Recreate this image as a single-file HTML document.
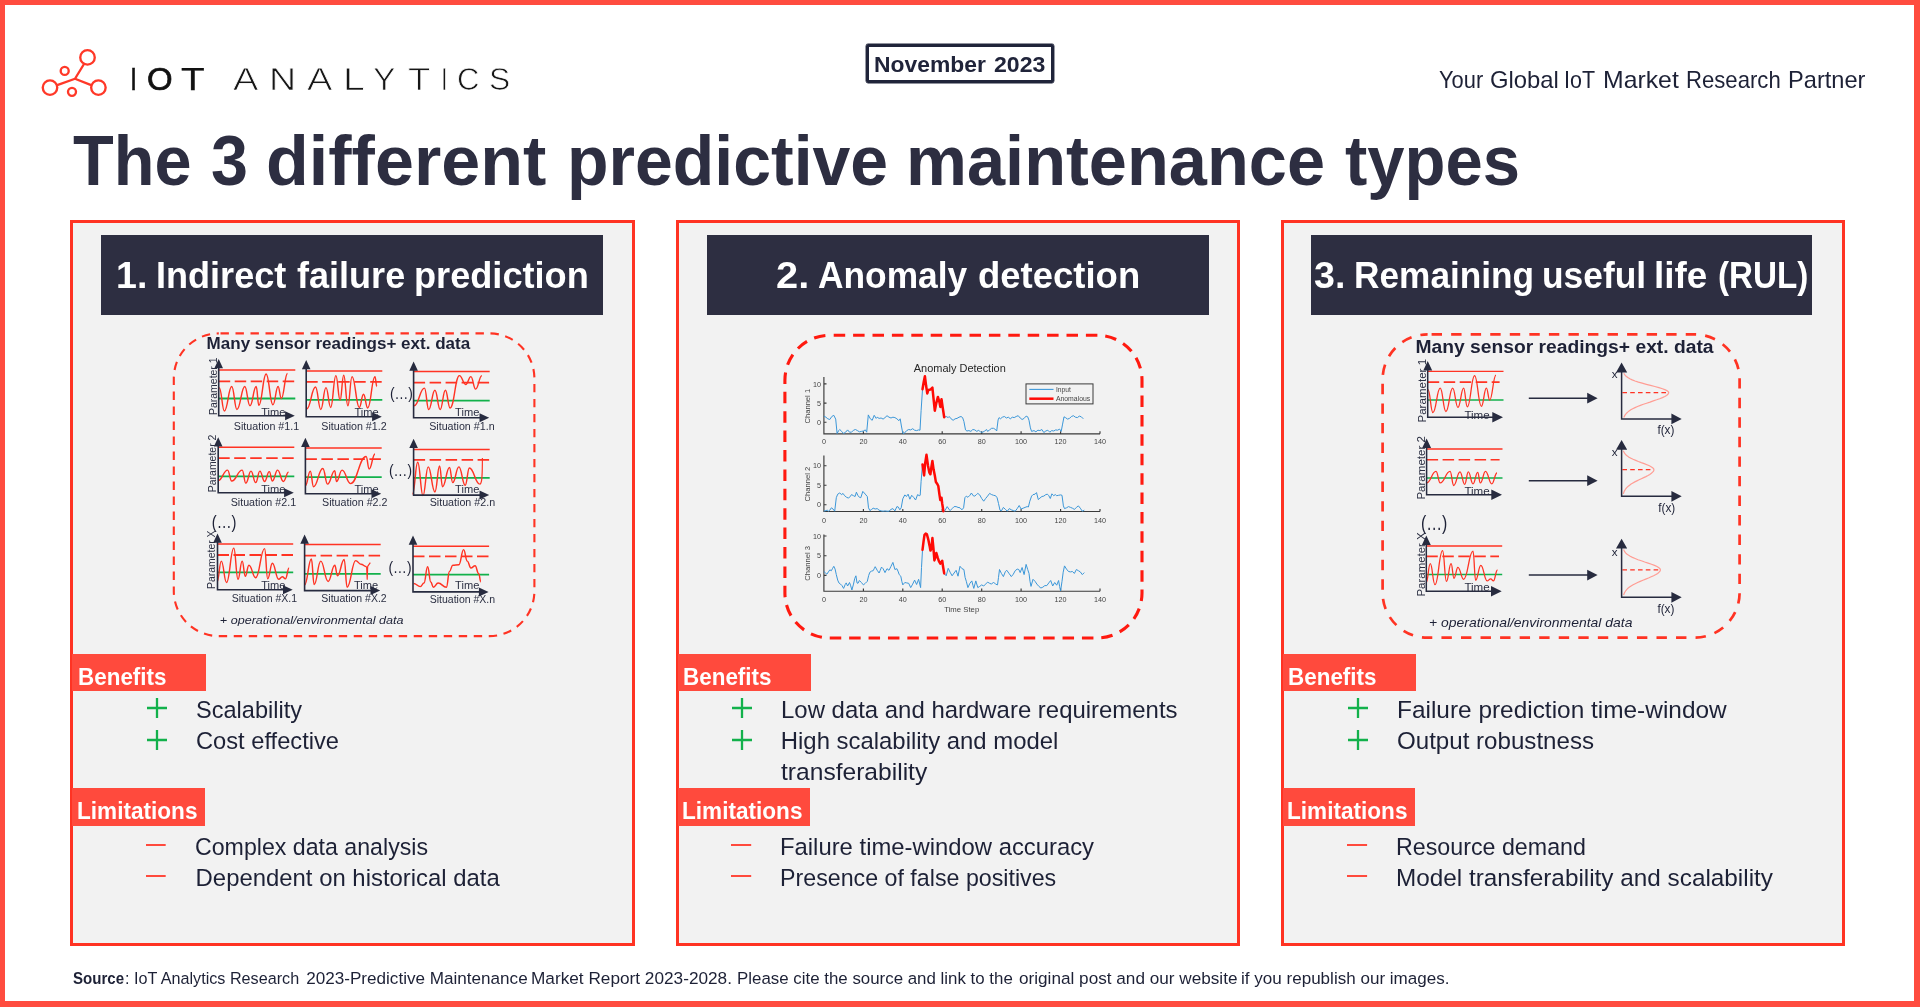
<!DOCTYPE html>
<html lang="en"><head><meta charset="utf-8"><title>The 3 different predictive maintenance types</title>
<style>
html,body{margin:0;padding:0}
body{width:1920px;height:1007px;position:relative;overflow:hidden;background:#fff;font-family:"Liberation Sans",sans-serif;color:#1d2136}
.stage{position:absolute;left:0;top:0;width:1920px;height:1007px;will-change:transform}
.frame{position:absolute;left:0;top:0;width:1920px;height:1007px;box-sizing:border-box;border-style:solid;border-color:#ff4c3f;border-width:5px 6px 6px 5px;pointer-events:none}
.t{position:absolute;white-space:nowrap;line-height:1;transform-origin:0 0;margin:0;padding:0;display:block}
h1,h2,h3,p,ul,li,figure{margin:0;padding:0;font-weight:normal;list-style:none}
.panel{position:absolute;top:220px;width:564px;height:726px;box-sizing:border-box;border:3px solid #ff3323;background:#f2f2f2}
.hd{position:absolute;top:235px;height:80px;background:#2d2e41}
.lab{position:absolute;height:37.5px;background:#ff4a3d}
.fig{position:absolute;overflow:visible}
.ico{position:absolute;overflow:visible}
.badge{position:absolute;left:866px;top:44px;width:188px;height:39px;box-sizing:border-box;border:3px solid #20243a;border-radius:2px;box-shadow:0 0 0 .45px #20243a}
.thin{-webkit-text-stroke:.75px #fff;color:#161616}
.iot{-webkit-text-stroke:.5px #111;color:#111}
</style></head><body><div class="stage">
<header>
<svg class="ico" style="left:38px;top:45px" width="74" height="58" viewBox="38 45 74 58" aria-hidden="true">
<g fill="none" stroke="#ff3828" stroke-width="2.35" stroke-linecap="round">
<circle cx="87.5" cy="57.4" r="7.25"/><circle cx="50" cy="87.6" r="7.25"/><circle cx="98.4" cy="87.6" r="7.25"/>
<circle cx="64.7" cy="70.9" r="4.0"/><circle cx="72" cy="91.8" r="4.0"/>
<path d="M75 78.75L84 64M75 78.75L57.2 85.2M75 78.75L91.2 85.2"/></g></svg>
<div class="logo"><span class="wr"><span class="t" style="left:129.60px;top:64.00px;font-size:31.8px;color:#111;transform:scaleX(0.8000);-webkit-text-stroke:0.45px #111;">I</span><span class="t" style="left:147.27px;top:64.00px;font-size:31.8px;color:#111;transform:scaleX(1.0348);-webkit-text-stroke:0.7px #111;">O</span><span class="t" style="left:181.40px;top:64.00px;font-size:31.8px;color:#111;transform:scaleX(1.2211);-webkit-text-stroke:0.25px #111;">T</span></span> <span class="wr"><span class="t thin" style="left:232.65px;top:64.00px;font-size:31.3px;transform:scaleX(1.2143);">A</span><span class="t thin" style="left:268.55px;top:64.00px;font-size:31.3px;transform:scaleX(1.2000);">N</span><span class="t thin" style="left:306.85px;top:64.00px;font-size:31.3px;transform:scaleX(1.2143);">A</span><span class="t thin" style="left:343.14px;top:64.00px;font-size:31.3px;transform:scaleX(1.2533);">L</span><span class="t thin" style="left:373.25px;top:64.00px;font-size:31.3px;transform:scaleX(1.0810);">Y</span><span class="t thin" style="left:408.15px;top:64.00px;font-size:31.3px;transform:scaleX(1.1684);">T</span><span class="t thin" style="left:441.45px;top:64.00px;font-size:31.3px;transform:scaleX(0.7500);">I</span><span class="t thin" style="left:456.66px;top:64.00px;font-size:31.3px;transform:scaleX(0.9905);">C</span><span class="t thin" style="left:489.43px;top:64.00px;font-size:31.3px;transform:scaleX(1.0158);">S</span></span></div>
<div class="badge"></div>
<time class="wr"><span class="t" style="left:874.39px;top:54.00px;font-size:22.6px;font-weight:bold;color:#20243a;transform:scaleX(1.0118);">November</span> <span class="t" style="left:993.80px;top:54.00px;font-size:22.6px;font-weight:bold;color:#20243a;transform:scaleX(1.0202);">2023</span></time>
<p class="wr"><span class="t" style="left:1439.20px;top:69.00px;font-size:23.6px;transform:scaleX(0.9265);">Your</span> <span class="t" style="left:1490.19px;top:69.00px;font-size:23.6px;transform:scaleX(1.0097);">Global</span> <span class="t" style="left:1564.28px;top:69.00px;font-size:23.6px;transform:scaleX(0.9092);">IoT</span> <span class="t" style="left:1602.95px;top:69.00px;font-size:23.6px;transform:scaleX(1.0510);">Market</span> <span class="t" style="left:1685.76px;top:69.00px;font-size:23.6px;transform:scaleX(0.9377);">Research</span> <span class="t" style="left:1788.00px;top:69.00px;font-size:23.6px;transform:scaleX(1.0011);">Partner</span></p>
</header>
<h1 class="wr"><span class="t" style="left:72.50px;top:126.00px;font-size:70.6px;font-weight:bold;color:#2d2e41;transform:scaleX(0.9445);">The</span> <span class="t" style="left:211.36px;top:126.00px;font-size:70.6px;font-weight:bold;color:#2d2e41;transform:scaleX(0.9417);">3</span> <span class="t" style="left:266.31px;top:126.00px;font-size:70.6px;font-weight:bold;color:#2d2e41;transform:scaleX(0.9926);">different</span> <span class="t" style="left:566.85px;top:126.00px;font-size:70.6px;font-weight:bold;color:#2d2e41;transform:scaleX(0.9629);">predictive</span> <span class="t" style="left:906.42px;top:126.00px;font-size:70.6px;font-weight:bold;color:#2d2e41;transform:scaleX(0.9711);">maintenance</span> <span class="t" style="left:1345.20px;top:126.00px;font-size:70.6px;font-weight:bold;color:#2d2e41;transform:scaleX(0.9492);">types</span></h1>
<main>
<section><div class="panel" style="left:70px;width:565px"></div>
<div class="hd" style="left:101px;width:502px"></div>
<h2 class="wr"><span class="t" style="left:115.93px;top:258.00px;font-size:36.3px;font-weight:bold;color:#fff;transform:scaleX(1.0349);">1.</span> <span class="t" style="left:155.81px;top:258.00px;font-size:36.3px;font-weight:bold;color:#fff;transform:scaleX(0.9937);">Indirect</span> <span class="t" style="left:296.80px;top:258.00px;font-size:36.3px;font-weight:bold;color:#fff;transform:scaleX(0.9931);">failure</span> <span class="t" style="left:414.01px;top:258.00px;font-size:36.3px;font-weight:bold;color:#fff;transform:scaleX(0.9961);">prediction</span></h2>
<svg class="fig" style="left:160px;top:325px" width="395" height="320" viewBox="160 325 395 320" role="img" aria-label="Many sensor readings and external data for several parameters and situations">
<rect x="173.8" y="333.4" width="360.6" height="302.7" rx="45" ry="45" fill="none" stroke="#ff3323" stroke-width="2.1" stroke-dasharray="8.4 6.6" stroke-dashoffset="-1.7"/>
<path d="M218.7 398.5H295.3" stroke="#12b14b" stroke-width="1.8"/>
<path d="M218.7 370.0H295.3" stroke="#ff3323" stroke-width="1.5"/>
<path d="M218.7 381.3H295.3" stroke="#ff3323" stroke-width="1.8" stroke-dasharray="11.5 4.5"/>
<path d="M219.2 387.6C221.6 387.6 222.1 411.0 224.4 411.0C227.7 411.0 228.5 386.5 231.7 386.5C234.1 386.5 234.6 409.5 236.9 409.5C240.5 409.5 241.3 386.5 244.8 386.5C247.1 386.5 247.6 405.8 250.0 405.8C252.8 405.8 253.4 386.5 256.2 386.5C257.4 386.5 257.7 405.3 258.8 405.3C262.1 405.3 262.9 374.0 266.1 374.0C269.2 374.0 269.9 404.8 272.9 404.8C275.3 404.8 275.8 386.5 278.1 386.5C279.5 386.5 279.9 398.5 281.3 398.5C284.1 398.5 284.7 373.5 287.5 373.5" stroke="#ff3323" stroke-width="1.45" fill="none" stroke-linejoin="round"/>
<path d="M218.7 367.2V415.7H286.1" stroke="#272b3f" stroke-width="1.6" fill="none"/>
<path d="M218.7 358.9l4.3 9.3h-8.6zM294.8 415.7l-9.7 -4.5v9.0z" fill="#272b3f"/>
<path d="M306.2 399.9H382.3" stroke="#12b14b" stroke-width="1.8"/>
<path d="M306.2 370.9H382.3" stroke="#ff3323" stroke-width="1.5"/>
<path d="M306.2 381.8H382.3" stroke="#ff3323" stroke-width="1.8" stroke-dasharray="11.5 4.5"/>
<path d="M306.7 408.9C310.7 408.9 311.6 387.0 315.5 387.0C317.9 387.0 318.4 409.5 320.8 409.5C323.1 409.5 323.6 387.6 326.0 387.6C328.1 387.6 328.6 407.4 330.7 407.4C333.0 407.4 333.5 375.6 335.9 375.6C337.8 375.6 338.2 400.1 340.1 400.1C341.7 400.1 342.1 375.1 343.7 375.1C345.6 375.1 346.0 405.8 347.9 405.8C349.7 405.8 350.2 376.6 352.0 376.6C355.3 376.6 356.1 407.4 359.3 407.4C361.2 407.4 361.6 394.3 363.5 394.3C365.4 394.3 365.8 407.9 367.7 407.9C371.0 407.9 371.7 376.6 375.0 376.6C375.8 376.6 376.0 386.5 376.8 386.5" stroke="#ff3323" stroke-width="1.45" fill="none" stroke-linejoin="round"/>
<path d="M306.2 368.2V416.8H373.1" stroke="#272b3f" stroke-width="1.6" fill="none"/>
<path d="M306.2 359.9l4.3 9.3h-8.6zM381.8 416.8l-9.7 -4.5v9.0z" fill="#272b3f"/>
<path d="M413.6 400.6H489.7" stroke="#12b14b" stroke-width="1.8"/>
<path d="M413.6 371.6H489.7" stroke="#ff3323" stroke-width="1.5"/>
<path d="M413.6 382.6H489.7" stroke="#ff3323" stroke-width="1.8" stroke-dasharray="11.5 4.5"/>
<path d="M414.1 405.8C418.8 405.8 419.8 388.1 424.5 388.1C426.4 388.1 426.8 409.5 428.7 409.5C431.5 409.5 432.1 390.2 434.9 390.2C437.3 390.2 437.8 409.5 440.2 409.5C442.5 409.5 443.0 390.2 445.4 390.2C447.5 390.2 448.0 407.9 450.1 407.9C454.3 407.9 455.2 375.6 459.4 375.6C462.3 375.6 462.9 384.4 465.7 384.4C468.1 384.4 468.6 376.6 470.9 376.6C473.0 376.6 473.5 389.1 475.6 389.1C478.4 389.1 479.1 375.6 481.9 375.6" stroke="#ff3323" stroke-width="1.45" fill="none" stroke-linejoin="round"/>
<path d="M413.6 369.8V417.8H480.5" stroke="#272b3f" stroke-width="1.6" fill="none"/>
<path d="M413.6 361.5l4.3 9.3h-8.6zM489.2 417.8l-9.7 -4.5v9.0z" fill="#272b3f"/>
<path d="M218.2 476.3H294.3" stroke="#12b14b" stroke-width="1.8"/>
<path d="M218.2 447.3H294.3" stroke="#ff3323" stroke-width="1.5"/>
<path d="M218.2 458.1H294.3" stroke="#ff3323" stroke-width="1.8" stroke-dasharray="11.5 4.5"/>
<path d="M218.2 480.5C222.4 480.5 223.3 470.1 227.6 470.1C229.4 470.1 229.9 481.0 231.7 481.0C236.4 481.0 237.5 470.1 242.2 470.1C243.8 470.1 244.2 483.1 245.8 483.1C248.2 483.1 248.7 471.1 251.0 471.1C253.1 471.1 253.6 482.6 255.7 482.6C257.6 482.6 258.0 471.1 259.9 471.1C262.0 471.1 262.5 481.5 264.6 481.5C266.7 481.5 267.2 471.6 269.3 471.6C270.7 471.6 271.0 481.0 272.4 481.0C274.7 481.0 275.3 470.1 277.6 470.1C280.2 470.1 280.8 481.5 283.4 481.5C285.7 481.5 286.2 472.1 288.6 472.1" stroke="#ff3323" stroke-width="1.45" fill="none" stroke-linejoin="round"/>
<path d="M218.2 445.5V492.8H285.1" stroke="#272b3f" stroke-width="1.6" fill="none"/>
<path d="M218.2 437.2l4.3 9.3h-8.6zM293.8 492.8l-9.7 -4.5v9.0z" fill="#272b3f"/>
<path d="M305.4 477.1H381.7" stroke="#12b14b" stroke-width="1.8"/>
<path d="M305.4 447.9H381.7" stroke="#ff3323" stroke-width="1.5"/>
<path d="M305.4 459.1H381.7" stroke="#ff3323" stroke-width="1.8" stroke-dasharray="11.5 4.5"/>
<path d="M305.4 485.7C307.6 485.7 308.1 471.1 310.3 471.1C311.7 471.1 312.1 486.7 313.5 486.7C317.7 486.7 318.6 468.5 322.8 468.5C325.0 468.5 325.4 484.1 327.5 484.1C330.8 484.1 331.6 470.6 334.8 470.6C335.5 470.6 335.7 481.5 336.4 481.5C339.0 481.5 339.6 470.1 342.1 470.1C345.9 470.1 346.7 483.6 350.5 483.6C357.5 483.6 359.1 456.5 366.1 456.5C367.5 456.5 367.8 469.0 369.2 469.0C371.8 469.0 372.4 453.9 375.0 453.9" stroke="#ff3323" stroke-width="1.45" fill="none" stroke-linejoin="round"/>
<path d="M305.4 446.0V493.8H372.5" stroke="#272b3f" stroke-width="1.6" fill="none"/>
<path d="M305.4 437.7l4.3 9.3h-8.6zM381.2 493.8l-9.7 -4.5v9.0z" fill="#272b3f"/>
<path d="M413.6 477.9H489.7" stroke="#12b14b" stroke-width="1.8"/>
<path d="M413.6 449.5H489.7" stroke="#ff3323" stroke-width="1.5"/>
<path d="M413.6 459.9H489.7" stroke="#ff3323" stroke-width="1.8" stroke-dasharray="11.5 4.5"/>
<path d="M412.5 494.0C414.9 494.0 415.4 462.2 417.7 462.2C420.1 462.2 420.6 495.6 423.0 495.6C425.3 495.6 425.8 466.9 428.2 466.9C431.2 466.9 431.9 491.9 434.9 491.9C437.1 491.9 437.5 465.9 439.6 465.9C440.9 465.9 441.2 486.7 442.5 486.7C445.6 486.7 446.4 467.4 449.5 467.4C450.9 467.4 451.3 482.6 452.7 482.6C455.5 482.6 456.1 466.9 458.9 466.9C461.7 466.9 462.4 485.2 465.2 485.2C467.1 485.2 467.5 468.0 469.4 468.0C474.0 468.0 475.1 484.1 479.8 484.1" stroke="#ff3323" stroke-width="1.45" fill="none" stroke-linejoin="round"/>
<path d="M413.6 447.1V495.1H480.5" stroke="#272b3f" stroke-width="1.6" fill="none"/>
<path d="M413.6 438.8l4.3 9.3h-8.6zM489.2 495.1l-9.7 -4.5v9.0z" fill="#272b3f"/>
<path d="M479.8 484.1C481.8 484.1 482.4 478.1 482.4 458.1" stroke="#ff3323" stroke-width="1.15" fill="none"/>
<path d="M217.5 572.4H293.2" stroke="#12b14b" stroke-width="1.8"/>
<path d="M217.5 544.1H293.2" stroke="#ff3323" stroke-width="1.5"/>
<path d="M217.5 555.0H293.2" stroke="#ff3323" stroke-width="1.8" stroke-dasharray="11.5 4.5"/>
<path d="M217.1 581.9C219.0 581.9 219.4 561.1 221.3 561.1C223.7 561.1 224.2 582.5 226.5 582.5C229.8 582.5 230.5 548.1 233.8 548.1C235.7 548.1 236.1 579.3 238.0 579.3C239.9 579.3 240.3 561.1 242.2 561.1C243.6 561.1 243.9 576.2 245.3 576.2C246.9 576.2 247.3 565.3 248.9 565.3C252.0 565.3 252.7 577.8 255.7 577.8C259.7 577.8 260.6 548.6 264.6 548.6C266.0 548.6 266.3 578.8 267.7 578.8C269.8 578.8 270.3 563.2 272.4 563.2C275.2 563.2 275.8 579.3 278.7 579.3C280.3 579.3 280.7 576.7 282.3 576.7C283.7 576.7 284.0 578.8 285.4 578.8C287.1 578.8 287.4 567.9 289.1 567.9" stroke="#ff3323" stroke-width="1.45" fill="none" stroke-linejoin="round"/>
<path d="M217.5 541.8V589.8H284.0" stroke="#272b3f" stroke-width="1.6" fill="none"/>
<path d="M217.5 533.5l4.3 9.3h-8.6zM292.7 589.8l-9.7 -4.5v9.0z" fill="#272b3f"/>
<path d="M304.6 573.8H380.7" stroke="#12b14b" stroke-width="1.8"/>
<path d="M304.6 544.6H380.7" stroke="#ff3323" stroke-width="1.5"/>
<path d="M304.6 555.7H380.7" stroke="#ff3323" stroke-width="1.8" stroke-dasharray="11.5 4.5"/>
<path d="M304.6 585.1C307.6 585.1 308.3 559.0 311.4 559.0C312.6 559.0 312.9 584.6 314.2 584.6C317.1 584.6 317.8 561.1 320.8 561.1C324.0 561.1 324.8 581.4 328.1 581.4C331.1 581.4 331.8 565.3 334.8 565.3C336.0 565.3 336.3 575.7 337.4 575.7C340.5 575.7 341.2 559.5 344.2 559.5C345.5 559.5 345.8 587.2 347.1 587.2C351.0 587.2 351.8 560.6 355.7 560.6C358.0 560.6 358.6 564.2 360.9 564.2C363.5 564.2 364.1 566.8 366.6 566.8" stroke="#ff3323" stroke-width="1.45" fill="none" stroke-linejoin="round"/>
<path d="M304.6 542.8V590.6H371.5" stroke="#272b3f" stroke-width="1.6" fill="none"/>
<path d="M304.6 534.5l4.3 9.3h-8.6zM380.2 590.6l-9.7 -4.5v9.0z" fill="#272b3f"/>
<path d="M366.6 566.8L367.2 579.3L367.7 566.3L370.3 562.7" stroke="#ff3323" stroke-width="1.15" fill="none" stroke-linejoin="round"/>
<path d="M413.0 574.7H489.1" stroke="#12b14b" stroke-width="1.8"/>
<path d="M413.0 546.3H489.1" stroke="#ff3323" stroke-width="1.5"/>
<path d="M413.0 556.4H489.1" stroke="#ff3323" stroke-width="1.8" stroke-dasharray="11.5 4.5"/>
<path d="M413.6 583.5C416.6 583.5 417.3 586.6 420.3 586.6C422.0 586.6 422.4 583.0 424.0 583.0C425.6 583.0 426.0 566.8 427.6 566.8C429.1 566.8 429.4 581.9 430.8 581.9C431.9 581.9 432.2 587.2 433.4 587.2C435.5 587.2 436.0 583.0 438.1 583.0C441.8 583.0 442.7 587.2 446.4 587.2C447.8 587.2 448.1 571.5 449.5 571.5C450.9 571.5 451.3 565.3 452.7 565.3C455.5 565.3 456.1 564.7 458.9 564.7C461.0 564.7 461.5 549.6 463.6 549.6C465.3 549.6 465.6 561.1 467.3 561.1C468.9 561.1 469.3 567.9 470.9 567.9C472.8 567.9 473.2 565.8 475.1 565.8C476.7 565.8 477.1 573.6 478.7 573.6C479.7 573.6 479.9 581.9 480.8 581.9" stroke="#ff3323" stroke-width="1.45" fill="none" stroke-linejoin="round"/>
<path d="M413.0 543.8V591.9H479.9" stroke="#272b3f" stroke-width="1.6" fill="none"/>
<path d="M413.0 535.5l4.3 9.3h-8.6zM488.6 591.9l-9.7 -4.5v9.0z" fill="#272b3f"/>
<g font-family="Liberation Sans, sans-serif">
<text x="206.6" y="349.2" font-size="16.3" textLength="263.6" lengthAdjust="spacingAndGlyphs" font-weight="bold" fill="#1d2136">Many sensor readings+ ext. data</text>
<text x="216.6" y="415.0" font-size="10.6" textLength="57.6" lengthAdjust="spacingAndGlyphs" fill="#2b2f42" transform="rotate(-90 216.6 415.0)">Parameter 1</text>
<text x="216.2" y="492.2" font-size="10.6" textLength="57.6" lengthAdjust="spacingAndGlyphs" fill="#2b2f42" transform="rotate(-90 216.2 492.2)">Parameter 2</text>
<text x="215.4" y="589.0" font-size="10.6" textLength="58.6" lengthAdjust="spacingAndGlyphs" fill="#2b2f42" transform="rotate(-90 215.4 589.0)">Parameter X</text>
<text x="261.2" y="416.3" font-size="10.3" textLength="24.2" lengthAdjust="spacingAndGlyphs" fill="#2b2f42">Time</text>
<text x="354.4" y="416.3" font-size="10.3" textLength="24.2" lengthAdjust="spacingAndGlyphs" fill="#2b2f42">Time</text>
<text x="455.1" y="416.3" font-size="10.3" textLength="24.2" lengthAdjust="spacingAndGlyphs" fill="#2b2f42">Time</text>
<text x="261.2" y="492.9" font-size="10.3" textLength="24.2" lengthAdjust="spacingAndGlyphs" fill="#2b2f42">Time</text>
<text x="354.4" y="493.1" font-size="10.3" textLength="24.2" lengthAdjust="spacingAndGlyphs" fill="#2b2f42">Time</text>
<text x="455.1" y="493.2" font-size="10.3" textLength="24.2" lengthAdjust="spacingAndGlyphs" fill="#2b2f42">Time</text>
<text x="261.2" y="588.7" font-size="10.3" textLength="24.2" lengthAdjust="spacingAndGlyphs" fill="#2b2f42">Time</text>
<text x="354.0" y="588.9" font-size="10.3" textLength="24.2" lengthAdjust="spacingAndGlyphs" fill="#2b2f42">Time</text>
<text x="455.1" y="589.0" font-size="10.3" textLength="24.2" lengthAdjust="spacingAndGlyphs" fill="#2b2f42">Time</text>
<text x="233.8" y="429.8" font-size="10.0" textLength="65.4" lengthAdjust="spacingAndGlyphs" fill="#2b2f42">Situation #1.1</text>
<text x="321.3" y="429.8" font-size="10.0" textLength="65.4" lengthAdjust="spacingAndGlyphs" fill="#2b2f42">Situation #1.2</text>
<text x="429.2" y="429.8" font-size="10.0" textLength="65.4" lengthAdjust="spacingAndGlyphs" fill="#2b2f42">Situation #1.n</text>
<text x="230.7" y="506.1" font-size="10.0" textLength="65.4" lengthAdjust="spacingAndGlyphs" fill="#2b2f42">Situation #2.1</text>
<text x="322.1" y="506.3" font-size="10.0" textLength="65.4" lengthAdjust="spacingAndGlyphs" fill="#2b2f42">Situation #2.2</text>
<text x="429.7" y="506.3" font-size="10.0" textLength="65.4" lengthAdjust="spacingAndGlyphs" fill="#2b2f42">Situation #2.n</text>
<text x="231.7" y="601.6" font-size="10.0" textLength="65.4" lengthAdjust="spacingAndGlyphs" fill="#2b2f42">Situation #X.1</text>
<text x="321.3" y="602.3" font-size="10.0" textLength="65.4" lengthAdjust="spacingAndGlyphs" fill="#2b2f42">Situation #X.2</text>
<text x="429.7" y="602.8" font-size="10.0" textLength="65.4" lengthAdjust="spacingAndGlyphs" fill="#2b2f42">Situation #X.n</text>
<text x="389.9" y="398.6" font-size="16.5" textLength="23.0" lengthAdjust="spacingAndGlyphs" fill="#1d2136">(…)</text>
<text x="389.0" y="475.9" font-size="16.5" textLength="23.0" lengthAdjust="spacingAndGlyphs" fill="#1d2136">(…)</text>
<text x="388.5" y="572.8" font-size="16.5" textLength="23.0" lengthAdjust="spacingAndGlyphs" fill="#1d2136">(…)</text>
<text x="211.7" y="527.5" font-size="17.5" textLength="24.7" lengthAdjust="spacingAndGlyphs" fill="#1d2136">(…)</text>
<text x="219.8" y="623.5" font-size="11.6" textLength="183.7" lengthAdjust="spacingAndGlyphs" font-style="italic" fill="#1d2136">+ operational/environmental data</text>
</g></svg>
<div class="lab" style="left:72px;top:653.6px;width:133.8px"></div>
<h3 class="t" style="left:77.83px;top:666.00px;font-size:23.2px;font-weight:bold;color:#fff;transform:scaleX(0.9678);">Benefits</h3>
<ul>
<svg class="ico" style="left:147.0px;top:698.4px" width="20" height="20" viewBox="0 0 20 20" aria-hidden="true"><path d="M10 0V20M0 10H20" stroke="#12b14b" stroke-width="2.3"/></svg>
<li class="t" style="left:195.81px;top:698.00px;font-size:23.9px;transform:scaleX(0.9858);">Scalability</li>
<svg class="ico" style="left:147.0px;top:729.7px" width="20" height="20" viewBox="0 0 20 20" aria-hidden="true"><path d="M10 0V20M0 10H20" stroke="#12b14b" stroke-width="2.3"/></svg>
<li class="t" style="left:195.81px;top:729.00px;font-size:23.9px;transform:scaleX(0.9908);">Cost effective</li>
</ul>
<div class="lab" style="left:72px;top:788.3px;width:133.0px"></div>
<h3 class="t" style="left:77.03px;top:800.00px;font-size:23.2px;font-weight:bold;color:#fff;transform:scaleX(0.9739);">Limitations</h3>
<ul>
<svg class="ico" style="left:146.2px;top:843.2px" width="19.7" height="4" viewBox="0 0 19.7 4" aria-hidden="true"><path d="M0 2H19.7" stroke="#ff4a3d" stroke-width="2"/></svg>
<li class="t" style="left:195.13px;top:835.00px;font-size:23.9px;transform:scaleX(0.9695);">Complex data analysis</li>
<svg class="ico" style="left:146.2px;top:874.3px" width="19.7" height="4" viewBox="0 0 19.7 4" aria-hidden="true"><path d="M0 2H19.7" stroke="#ff4a3d" stroke-width="2"/></svg>
<li class="t" style="left:195.60px;top:866.00px;font-size:23.9px;">Dependent on historical data</li>
</ul></section>
<section><div class="panel" style="left:676px;width:564px"></div>
<div class="hd" style="left:707px;width:502px"></div>
<h2 class="wr"><span class="t" style="left:776.10px;top:258.00px;font-size:36.3px;font-weight:bold;color:#fff;transform:scaleX(1.0961);">2.</span> <span class="t" style="left:817.80px;top:258.00px;font-size:36.3px;font-weight:bold;color:#fff;transform:scaleX(0.9732);">Anomaly</span> <span class="t" style="left:977.99px;top:258.00px;font-size:36.3px;font-weight:bold;color:#fff;transform:scaleX(1.0053);">detection</span></h2>
<svg class="fig" style="left:770px;top:325px" width="390" height="320" viewBox="770 325 390 320" role="img" aria-label="Anomaly detection example chart with three channels">
<rect x="784.9" y="335.2" width="357.1" height="302.8" rx="45" ry="45" fill="none" stroke="#ff1a10" stroke-width="3.1" stroke-dasharray="11.5 7.9" stroke-dashoffset="-3.8"/>
<g font-family="Liberation Sans, sans-serif">
<text x="913.8" y="371.6" font-size="10.2" textLength="92.0" lengthAdjust="spacingAndGlyphs" fill="#262626">Anomaly Detection</text>
<path d="M823.9 377.0V433.8H1100.0M823.9 422.2h2.6M823.9 403.1h2.6M823.9 383.9h2.6M863.4 433.8v-2.6M902.8 433.8v-2.6M942.2 433.8v-2.6M981.7 433.8v-2.6M1021.1 433.8v-2.6M1060.6 433.8v-2.6M1100.0 433.8v-2.6" stroke="#3a3a3a" stroke-width="1.15" fill="none"/>
<text x="821.0" y="424.8" font-size="7.2" text-anchor="end" fill="#444">0</text>
<text x="821.0" y="405.7" font-size="7.2" text-anchor="end" fill="#444">5</text>
<text x="821.0" y="386.5" font-size="7.2" text-anchor="end" fill="#444">10</text>
<text x="823.9" y="444.1" font-size="7.2" text-anchor="middle" fill="#444">0</text>
<text x="863.4" y="444.1" font-size="7.2" text-anchor="middle" fill="#444">20</text>
<text x="902.8" y="444.1" font-size="7.2" text-anchor="middle" fill="#444">40</text>
<text x="942.2" y="444.1" font-size="7.2" text-anchor="middle" fill="#444">60</text>
<text x="981.7" y="444.1" font-size="7.2" text-anchor="middle" fill="#444">80</text>
<text x="1021.1" y="444.1" font-size="7.2" text-anchor="middle" fill="#444">100</text>
<text x="1060.6" y="444.1" font-size="7.2" text-anchor="middle" fill="#444">120</text>
<text x="1100.0" y="444.1" font-size="7.2" text-anchor="middle" fill="#444">140</text>
<text x="809.8" y="406.2" font-size="7.6" textLength="34.7" lengthAdjust="spacingAndGlyphs" text-anchor="middle" fill="#444" transform="rotate(-90 809.8 406.2)">Channel 1</text>
<polyline points="823.9,416.1 825.9,417.2 827.8,418.8 829.8,419.5 831.8,416.5 833.8,415.3 835.7,419.1 837.1,433.5 838.7,430.6 839.7,429.5 841.7,431.4 843.6,433.5 845.6,432.2 847.6,429.9 849.5,432.2 851.5,432.2 853.5,430.2 855.5,429.5 857.4,430.6 859.4,431.8 861.4,431.4 863.4,431.0 865.3,429.9 866.7,432.2 868.3,414.9 870.3,418.8 872.2,420.3 874.2,415.3 876.2,418.4 877.2,417.2 879.1,418.4 881.1,418.0 883.1,419.1 885.0,417.6 887.0,415.7 889.0,417.2 891.0,418.0 892.9,417.2 894.9,417.6 896.9,418.8 898.9,420.7 900.2,418.8 901.4,426.0 902.8,433.3 904.0,433.5 906.7,430.6 908.7,429.5 910.7,429.9 912.7,428.7 914.6,430.2 916.6,430.6 918.6,429.9 920.0,430.2 921.1,410.7 922.5,389.3" fill="none" stroke="#3b97d9" stroke-width="1" stroke-linejoin="round"/>
<polyline points="944.2,417.2 946.2,416.5 948.2,417.6 949.2,416.5 951.1,418.8 953.1,420.3 955.1,418.8 957.0,418.4 959.0,417.2 961.0,416.5 962.6,417.6 963.9,421.4 965.5,429.9 966.9,431.0 968.9,430.6 970.9,431.4 972.8,429.5 974.8,429.9 976.8,431.4 978.7,430.2 980.7,432.2 982.7,432.2 984.7,431.0 986.6,429.5 987.6,431.4 989.6,429.9 991.6,428.3 993.5,428.3 995.5,429.5 996.7,431.0 998.1,419.9 999.1,417.6 1000.4,418.8 1002.4,417.2 1004.4,416.5 1006.4,418.0 1008.3,417.2 1010.3,418.8 1012.3,417.2 1014.2,417.6 1016.2,416.5 1018.2,415.7 1020.2,418.0 1022.1,419.5 1024.1,418.4 1026.1,416.1 1027.7,416.8 1029.0,420.3 1030.4,427.9 1031.6,431.4 1034.0,430.6 1035.9,431.8 1037.9,430.2 1039.9,430.6 1041.9,429.5 1043.8,432.5 1045.8,431.0 1047.8,430.2 1049.8,432.2 1051.7,430.6 1053.7,431.0 1055.7,429.9 1057.6,430.2 1059.6,429.1 1061.2,431.4 1062.6,424.1 1064.0,416.8 1065.5,417.6 1067.5,419.1 1069.5,418.4 1071.4,416.5 1073.4,415.7 1075.4,417.2 1077.4,417.6 1079.3,416.1 1081.3,416.8 1083.3,418.8" fill="none" stroke="#3b97d9" stroke-width="1" stroke-linejoin="round"/>
<polyline points="922.5,389.3 923.7,382.0 924.9,376.2 926.1,385.8 927.3,393.5 928.4,390.0 930.4,389.6 932.4,387.7 933.4,397.3 934.8,410.7 936.3,403.1 937.9,396.9 939.5,402.3 940.3,406.9 941.5,399.2 942.6,406.9 944.2,417.2" fill="none" stroke="#ff0a05" stroke-width="2.5" stroke-linejoin="round" stroke-linecap="round"/>
<path d="M823.9 455.5V511.5H1100.0M823.9 504.7h2.6M823.9 485.2h2.6M823.9 465.7h2.6M863.4 511.5v-2.6M902.8 511.5v-2.6M942.2 511.5v-2.6M981.7 511.5v-2.6M1021.1 511.5v-2.6M1060.6 511.5v-2.6M1100.0 511.5v-2.6" stroke="#3a3a3a" stroke-width="1.15" fill="none"/>
<text x="821.0" y="507.3" font-size="7.2" text-anchor="end" fill="#444">0</text>
<text x="821.0" y="487.8" font-size="7.2" text-anchor="end" fill="#444">5</text>
<text x="821.0" y="468.3" font-size="7.2" text-anchor="end" fill="#444">10</text>
<text x="823.9" y="522.6" font-size="7.2" text-anchor="middle" fill="#444">0</text>
<text x="863.4" y="522.6" font-size="7.2" text-anchor="middle" fill="#444">20</text>
<text x="902.8" y="522.6" font-size="7.2" text-anchor="middle" fill="#444">40</text>
<text x="942.2" y="522.6" font-size="7.2" text-anchor="middle" fill="#444">60</text>
<text x="981.7" y="522.6" font-size="7.2" text-anchor="middle" fill="#444">80</text>
<text x="1021.1" y="522.6" font-size="7.2" text-anchor="middle" fill="#444">100</text>
<text x="1060.6" y="522.6" font-size="7.2" text-anchor="middle" fill="#444">120</text>
<text x="1100.0" y="522.6" font-size="7.2" text-anchor="middle" fill="#444">140</text>
<text x="809.8" y="484.1" font-size="7.6" textLength="34.7" lengthAdjust="spacingAndGlyphs" text-anchor="middle" fill="#444" transform="rotate(-90 809.8 484.1)">Channel 2</text>
<polyline points="823.9,511.2 825.9,510.6 827.3,510.2 828.4,511.2 829.8,510.2 831.4,507.8 833.0,509.0 834.7,511.2 836.3,497.7 837.7,494.2 839.7,493.0 841.7,494.6 843.0,493.4 844.6,495.7 846.6,497.3 848.6,498.1 850.5,496.1 851.5,494.6 853.5,495.7 855.1,496.5 856.4,492.2 857.8,495.3 859.4,497.3 860.8,497.7 862.8,491.4 864.3,493.0 865.9,494.9 867.3,496.5 868.5,507.8 869.9,510.6 871.6,509.4 873.2,508.2 875.2,509.0 877.2,508.6 879.1,510.2 881.1,510.9 883.1,511.2 885.0,510.9 887.0,511.2 889.0,511.2 891.0,509.4 892.9,508.6 894.9,510.9 896.9,506.6 898.3,507.0 899.8,509.8 901.2,507.8 902.8,498.8 904.8,494.9 906.4,496.5 908.1,494.2 909.9,499.2 911.7,495.3 913.6,497.3 915.6,500.0 917.6,494.6 919.2,495.7 920.2,495.3 921.1,481.3 922.5,464.5" fill="none" stroke="#3b97d9" stroke-width="1" stroke-linejoin="round"/>
<polyline points="943.4,511.2 944.6,511.2 947.2,506.6 948.8,509.0 950.1,510.6 952.1,508.6 954.1,506.6 956.1,506.6 958.0,507.4 960.0,507.8 962.0,509.8 963.6,507.8 964.9,497.7 966.3,496.1 967.9,497.3 969.9,495.3 971.4,493.0 973.2,495.7 974.8,496.1 976.4,494.6 977.8,493.4 979.7,494.9 981.7,498.5 983.7,501.2 985.6,498.5 987.6,496.1 989.6,493.4 991.6,494.6 993.5,495.3 995.5,495.7 997.1,497.7 998.5,503.5 1000.0,510.2 1001.4,510.9 1003.4,507.4 1005.4,509.4 1007.3,511.2 1009.3,508.6 1011.3,509.8 1013.3,510.6 1015.2,511.2 1017.2,508.6 1019.2,505.5 1021.1,509.0 1023.1,508.2 1025.1,507.4 1027.1,506.6 1028.4,507.0 1029.8,501.2 1031.6,496.1 1033.0,494.6 1035.0,494.2 1036.5,492.6 1038.3,499.6 1039.9,498.1 1041.9,496.5 1043.8,496.1 1045.8,494.6 1047.4,494.2 1048.8,495.7 1050.3,498.5 1051.9,493.8 1053.7,495.7 1055.3,494.6 1056.7,495.7 1058.6,495.3 1060.6,494.9 1062.0,495.3 1063.4,505.9 1064.5,508.6 1066.5,507.8 1068.5,506.6 1070.5,507.4 1072.4,508.2 1074.4,509.4 1076.4,507.4 1078.4,505.9 1080.3,508.2 1082.3,511.2 1084.3,510.2" fill="none" stroke="#3b97d9" stroke-width="1" stroke-linejoin="round"/>
<polyline points="922.5,464.5 924.1,475.4 925.1,463.8 926.5,454.8 928.0,465.7 929.4,472.7 930.4,474.3 931.6,465.7 932.4,461.0 933.6,469.6 934.8,475.4 935.9,482.1 937.3,484.0 938.3,486.0 939.5,494.9 940.3,500.0 941.5,497.7 942.2,503.5 943.4,511.2" fill="none" stroke="#ff0a05" stroke-width="2.5" stroke-linejoin="round" stroke-linecap="round"/>
<path d="M823.9 534.4V591.2H1100.0M823.9 575.4h2.6M823.9 555.7h2.6M823.9 536.0h2.6M863.4 591.2v-2.6M902.8 591.2v-2.6M942.2 591.2v-2.6M981.7 591.2v-2.6M1021.1 591.2v-2.6M1060.6 591.2v-2.6M1100.0 591.2v-2.6" stroke="#3a3a3a" stroke-width="1.15" fill="none"/>
<text x="821.0" y="578.0" font-size="7.2" text-anchor="end" fill="#444">0</text>
<text x="821.0" y="558.3" font-size="7.2" text-anchor="end" fill="#444">5</text>
<text x="821.0" y="538.6" font-size="7.2" text-anchor="end" fill="#444">10</text>
<text x="823.9" y="601.9" font-size="7.2" text-anchor="middle" fill="#444">0</text>
<text x="863.4" y="601.9" font-size="7.2" text-anchor="middle" fill="#444">20</text>
<text x="902.8" y="601.9" font-size="7.2" text-anchor="middle" fill="#444">40</text>
<text x="942.2" y="601.9" font-size="7.2" text-anchor="middle" fill="#444">60</text>
<text x="981.7" y="601.9" font-size="7.2" text-anchor="middle" fill="#444">80</text>
<text x="1021.1" y="601.9" font-size="7.2" text-anchor="middle" fill="#444">100</text>
<text x="1060.6" y="601.9" font-size="7.2" text-anchor="middle" fill="#444">120</text>
<text x="1100.0" y="601.9" font-size="7.2" text-anchor="middle" fill="#444">140</text>
<text x="809.8" y="563.3" font-size="7.6" textLength="34.7" lengthAdjust="spacingAndGlyphs" text-anchor="middle" fill="#444" transform="rotate(-90 809.8 563.3)">Channel 3</text>
<polyline points="823.9,571.5 825.5,573.0 826.9,574.2 828.4,571.9 829.8,569.9 831.4,570.7 832.4,568.7 833.8,566.3 835.1,569.1 836.3,574.6 837.7,580.1 838.9,582.9 840.5,584.1 842.0,585.6 843.6,588.4 845.2,584.5 846.2,582.9 847.6,586.0 849.5,582.5 850.5,585.2 851.9,590.0 853.5,584.1 854.7,578.6 855.9,575.8 857.0,582.9 858.0,583.3 859.4,580.5 861.4,582.5 863.4,584.9 865.3,583.3 867.3,581.3 868.7,575.4 869.9,572.2 871.6,571.1 873.2,570.7 874.2,568.7 875.2,566.7 877.2,570.3 879.1,573.0 880.1,570.7 881.5,567.1 883.1,568.7 885.0,572.6 887.0,568.7 889.0,570.3 891.0,566.3 892.9,562.4 894.9,569.5 896.9,568.7 898.3,571.9 899.2,574.6 900.8,576.2 901.8,581.3 902.8,584.9 904.8,582.5 906.7,582.9 908.7,583.3 910.7,587.6 912.7,584.1 914.6,580.1 916.6,584.5 918.6,579.3 920.6,587.6 921.5,567.5 922.5,549.8" fill="none" stroke="#3b97d9" stroke-width="1" stroke-linejoin="round"/>
<polyline points="944.2,573.4 946.2,575.8 948.2,568.3 950.1,572.2 952.1,575.8 954.1,573.0 956.1,570.3 958.0,576.2 960.0,566.3 962.0,568.7 963.9,569.5 965.1,577.4 966.3,581.3 967.9,587.6 969.9,583.3 971.8,580.9 973.0,585.6 973.8,588.4 975.8,580.9 977.8,587.6 979.7,586.4 981.7,584.9 983.7,586.0 985.6,584.1 987.6,582.1 989.6,583.3 991.6,584.1 993.5,582.1 995.5,584.1 997.5,584.9 998.5,577.4 999.5,569.5 1001.4,573.4 1003.4,576.6 1005.4,571.5 1006.8,570.3 1009.3,573.8 1011.3,576.6 1013.3,574.2 1015.2,570.7 1017.2,569.1 1018.8,569.5 1020.2,572.6 1022.1,567.5 1024.1,574.6 1026.1,564.4 1027.7,569.5 1029.0,573.4 1030.0,581.3 1031.0,586.4 1033.0,579.3 1035.0,581.3 1036.9,584.1 1038.9,586.4 1040.9,588.0 1042.8,587.2 1044.8,585.6 1046.8,585.6 1048.8,582.9 1050.7,580.5 1052.7,586.0 1054.7,582.5 1056.7,585.2 1058.6,580.5 1059.6,586.4 1060.6,590.9 1062.0,581.3 1063.2,572.2 1064.5,565.9 1066.5,569.1 1068.5,571.5 1070.5,571.9 1072.4,571.5 1074.4,573.4 1076.4,569.5 1078.4,570.7 1080.3,571.9 1082.3,574.6 1084.3,572.6" fill="none" stroke="#3b97d9" stroke-width="1" stroke-linejoin="round"/>
<polyline points="922.5,549.8 923.5,541.9 924.5,534.8 925.7,533.6 926.9,534.4 928.4,539.9 929.6,545.9 930.4,550.6 931.4,548.6 932.4,538.0 933.4,547.8 934.4,560.4 935.3,557.7 936.3,552.9 937.7,557.7 938.9,561.2 940.3,563.6 942.2,560.8 943.2,567.5 944.2,573.4" fill="none" stroke="#ff0a05" stroke-width="2.5" stroke-linejoin="round" stroke-linecap="round"/>
<text x="961.7" y="611.7" font-size="7.6" textLength="35.0" lengthAdjust="spacingAndGlyphs" text-anchor="middle" fill="#444">Time Step</text>
<rect x="1026" y="383.9" width="67" height="20" fill="#f2f2f2" stroke="#3a3a3a" stroke-width="1"/>
<path d="M1029.3 389.4H1053.5" stroke="#3b97d9" stroke-width="1.1"/><path d="M1029.3 398.7H1053.5" stroke="#ff0a05" stroke-width="2.5"/>
<text x="1055.9" y="391.8" font-size="6.7" fill="#444">Input</text>
<text x="1055.9" y="401.1" font-size="6.7" textLength="34.4" lengthAdjust="spacingAndGlyphs" fill="#444">Anomalous</text>
</g></svg>
<div class="lab" style="left:678px;top:653.6px;width:133.1px"></div>
<h3 class="t" style="left:683.43px;top:666.00px;font-size:23.2px;font-weight:bold;color:#fff;transform:scaleX(0.9678);">Benefits</h3>
<ul>
<svg class="ico" style="left:731.6px;top:698.4px" width="20" height="20" viewBox="0 0 20 20" aria-hidden="true"><path d="M10 0V20M0 10H20" stroke="#12b14b" stroke-width="2.3"/></svg>
<li class="t" style="left:780.80px;top:698.00px;font-size:23.9px;transform:scaleX(1.0020);">Low data and hardware requirements</li>
<svg class="ico" style="left:731.6px;top:729.6px" width="20" height="20" viewBox="0 0 20 20" aria-hidden="true"><path d="M10 0V20M0 10H20" stroke="#12b14b" stroke-width="2.3"/></svg>
<li class="t" style="left:780.80px;top:729.00px;font-size:23.9px;">High scalability and model</li>
<li class="t" style="left:781.20px;top:760.00px;font-size:23.9px;transform:scaleX(1.0294);">transferability</li>
</ul>
<div class="lab" style="left:678px;top:788.3px;width:132.0px"></div>
<h3 class="t" style="left:682.33px;top:800.00px;font-size:23.2px;font-weight:bold;color:#fff;transform:scaleX(0.9739);">Limitations</h3>
<ul>
<svg class="ico" style="left:730.7px;top:843.2px" width="20.2" height="4" viewBox="0 0 20.2 4" aria-hidden="true"><path d="M0 2H20.2" stroke="#ff4a3d" stroke-width="2"/></svg>
<li class="t" style="left:780.20px;top:835.00px;font-size:23.9px;transform:scaleX(0.9980);">Failure time-window accuracy</li>
<svg class="ico" style="left:730.7px;top:874.3px" width="20.2" height="4" viewBox="0 0 20.2 4" aria-hidden="true"><path d="M0 2H20.2" stroke="#ff4a3d" stroke-width="2"/></svg>
<li class="t" style="left:780.23px;top:866.00px;font-size:23.9px;transform:scaleX(0.9720);">Presence of false positives</li>
</ul></section>
<section><div class="panel" style="left:1281px;width:564px"></div>
<div class="hd" style="left:1311px;width:501px"></div>
<h2 class="wr"><span class="t" style="left:1314.10px;top:258.00px;font-size:36.3px;font-weight:bold;color:#fff;transform:scaleX(1.0360);">3.</span> <span class="t" style="left:1353.56px;top:258.00px;font-size:36.3px;font-weight:bold;color:#fff;transform:scaleX(0.9709);">Remaining</span> <span class="t" style="left:1541.85px;top:258.00px;font-size:36.3px;font-weight:bold;color:#fff;transform:scaleX(0.9747);">useful</span> <span class="t" style="left:1654.17px;top:258.00px;font-size:36.3px;font-weight:bold;color:#fff;transform:scaleX(1.0171);">life</span> <span class="t" style="left:1717.58px;top:258.00px;font-size:36.3px;font-weight:bold;color:#fff;transform:scaleX(0.9154);">(RUL)</span></h2>
<svg class="fig" style="left:1370px;top:325px" width="390" height="320" viewBox="1370 325 390 320" role="img" aria-label="Sensor readings per parameter mapped to remaining useful life distributions">
<rect x="1382.6" y="334.4" width="357.0" height="303.3" rx="45" ry="45" fill="none" stroke="#ff3323" stroke-width="2.7" stroke-dasharray="10.4 9.15" stroke-dashoffset="-4"/>
<g font-family="Liberation Sans, sans-serif">
<path d="M1427.7 400.1H1503.5" stroke="#12b14b" stroke-width="1.5"/>
<path d="M1427.7 371.4H1503.5" stroke="#ff3323" stroke-width="1.4"/>
<path d="M1427.7 382.1H1499.6" stroke="#ff3323" stroke-width="1.6" stroke-dasharray="11.5 4.5"/>
<path d="M1428.0 389.7C1430.2 389.7 1430.7 412.6 1432.9 412.6C1436.2 412.6 1436.9 388.1 1440.2 388.1C1442.8 388.1 1443.3 411.5 1445.9 411.5C1449.0 411.5 1449.6 388.1 1452.7 388.1C1455.0 388.1 1455.6 407.4 1457.9 407.4C1460.5 407.4 1461.1 388.1 1463.6 388.1C1465.3 388.1 1465.6 406.9 1467.3 406.9C1470.6 406.9 1471.3 375.6 1474.6 375.6C1477.6 375.6 1478.3 406.3 1481.4 406.3C1483.6 406.3 1484.1 388.1 1486.4 388.1C1487.9 388.1 1488.2 400.1 1489.7 400.1C1492.5 400.1 1493.1 375.1 1496.0 375.1" stroke="#ff3323" stroke-width="1.3" fill="none" stroke-linejoin="round"/>
<path d="M1427.7 369.4V417.3H1493.3" stroke="#272b3f" stroke-width="1.5" fill="none"/>
<path d="M1427.7 361.0l4.5 9.4h-8.9zM1503.0 417.3l-10.7 -5.2v10.4z" fill="#272b3f"/>
<path d="M1426.6 477.9H1502.5" stroke="#12b14b" stroke-width="1.5"/>
<path d="M1426.6 449.0H1502.5" stroke="#ff3323" stroke-width="1.4"/>
<path d="M1426.6 459.7H1499.6" stroke="#ff3323" stroke-width="1.6" stroke-dasharray="11.5 4.5"/>
<path d="M1426.6 482.9C1430.8 482.9 1431.8 471.4 1436.0 471.4C1437.9 471.4 1438.3 482.9 1440.2 482.9C1444.6 482.9 1445.6 471.4 1450.1 471.4C1451.7 471.4 1452.1 485.5 1453.7 485.5C1456.5 485.5 1457.2 471.9 1460.0 471.9C1462.1 471.9 1462.6 484.4 1464.7 484.4C1466.3 484.4 1466.7 471.9 1468.3 471.9C1470.4 471.9 1470.9 483.9 1473.0 483.9C1475.1 483.9 1475.6 472.4 1477.7 472.4C1478.9 472.4 1479.1 482.9 1480.3 482.9C1482.7 482.9 1483.2 471.4 1485.5 471.4C1488.3 471.4 1489.0 483.9 1491.8 483.9C1494.1 483.9 1494.7 473.0 1497.0 473.0" stroke="#ff3323" stroke-width="1.3" fill="none" stroke-linejoin="round"/>
<path d="M1426.6 447.0V494.7H1492.3" stroke="#272b3f" stroke-width="1.5" fill="none"/>
<path d="M1426.6 438.6l4.5 9.4h-8.9zM1502.0 494.7l-10.7 -5.2v10.4z" fill="#272b3f"/>
<path d="M1426.3 574.6H1502.2" stroke="#12b14b" stroke-width="1.5"/>
<path d="M1426.3 546.0H1502.2" stroke="#ff3323" stroke-width="1.4"/>
<path d="M1426.3 556.4H1499.0" stroke="#ff3323" stroke-width="1.6" stroke-dasharray="11.5 4.5"/>
<path d="M1426.1 583.0C1428.0 583.0 1428.4 563.7 1430.3 563.7C1432.4 563.7 1432.8 584.6 1435.0 584.6C1438.4 584.6 1439.1 550.7 1442.6 550.7C1444.3 550.7 1444.7 581.4 1446.4 581.4C1448.5 581.4 1449.0 563.7 1451.1 563.7C1452.4 563.7 1452.7 578.3 1454.0 578.3C1455.8 578.3 1456.2 567.4 1457.9 567.4C1460.5 567.4 1461.1 579.3 1463.6 579.3C1467.9 579.3 1468.8 551.2 1473.0 551.2C1474.2 551.2 1474.5 580.4 1475.6 580.4C1478.0 580.4 1478.5 565.3 1480.8 565.3C1483.7 565.3 1484.3 580.9 1487.1 580.9C1488.7 580.9 1489.1 578.8 1490.7 578.8C1491.9 578.8 1492.2 580.9 1493.4 580.9C1495.2 580.9 1495.6 570.0 1497.5 570.0" stroke="#ff3323" stroke-width="1.3" fill="none" stroke-linejoin="round"/>
<path d="M1426.3 543.9V591.3H1492.0" stroke="#272b3f" stroke-width="1.5" fill="none"/>
<path d="M1426.3 535.5l4.5 9.4h-8.9zM1501.7 591.3l-10.7 -5.2v10.4z" fill="#272b3f"/>
<path d="M1528.8 398.2H1588" stroke="#272b3f" stroke-width="1.5"/><path d="M1597.6 398.2L1587.2 392.8v10.8z" fill="#272b3f"/>
<path d="M1528.8 480.7H1588" stroke="#272b3f" stroke-width="1.5"/><path d="M1597.6 480.7L1587.2 475.3v10.8z" fill="#272b3f"/>
<path d="M1528.8 575.1H1588" stroke="#272b3f" stroke-width="1.5"/><path d="M1597.6 575.1L1587.2 569.7v10.8z" fill="#272b3f"/>
<path d="M1623.8 373.2L1624.4 374.3L1625.2 375.4L1626.4 376.5L1627.9 377.6L1629.8 378.8L1632.2 379.9L1635.0 381.0L1638.4 382.1L1642.2 383.2L1646.3 384.3L1650.5 385.4L1654.8 386.5L1658.9 387.6L1662.5 388.7L1665.4 389.9L1667.5 391.0L1668.6 392.1L1668.6 393.2L1667.9 394.3L1666.6 395.4L1664.8 396.5L1662.4 397.6L1659.6 398.7L1656.6 399.8L1653.3 400.9L1650.0 402.1L1646.6 403.2L1643.4 404.3L1640.4 405.4L1637.5 406.5L1635.0 407.6L1632.7 408.7L1630.8 409.8L1629.1 410.9L1627.7 412.1L1626.5 413.2L1625.6 414.3L1624.8 415.4L1624.3 416.5L1623.8 417.6" stroke="#ff9d94" stroke-width="1.2" fill="none"/>
<path d="M1622.4 392.6H1667.2" stroke="#ff3323" stroke-width="1.3" stroke-dasharray="4.6 3.2"/>
<path d="M1621.6 371.6V418.9H1672.4" stroke="#272b3f" stroke-width="1.5" fill="none"/>
<path d="M1621.6 362.5l5.6 10.1h-11.2zM1681.7 418.9L1671.4 413.5v10.8z" fill="#272b3f"/>
<text x="1611.8" y="377.9" font-size="11.6" fill="#1d2136">x</text>
<text x="1657.4" y="433.8" font-size="12" textLength="17.0" lengthAdjust="spacingAndGlyphs" fill="#1d2136">f(x)</text>
<path d="M1623.4 450.7L1623.8 451.8L1624.4 452.9L1625.1 453.9L1626.1 455.0L1627.4 456.1L1629.0 457.2L1630.9 458.2L1633.1 459.3L1635.7 460.4L1638.4 461.5L1641.3 462.6L1644.2 463.6L1646.9 464.7L1649.4 465.8L1651.5 466.9L1652.9 467.9L1653.8 469.0L1653.9 470.1L1653.5 471.2L1652.6 472.2L1651.4 473.3L1649.8 474.4L1648.0 475.5L1645.9 476.6L1643.7 477.6L1641.4 478.7L1639.1 479.8L1636.9 480.9L1634.8 481.9L1632.9 483.0L1631.1 484.1L1629.6 485.2L1628.2 486.3L1627.0 487.3L1626.1 488.4L1625.3 489.5L1624.6 490.6L1624.1 491.6L1623.7 492.7L1623.4 493.8" stroke="#ff9d94" stroke-width="1.2" fill="none"/>
<path d="M1622.4 469.7H1652.4" stroke="#ff3323" stroke-width="1.3" stroke-dasharray="4.6 3.2"/>
<path d="M1621.6 448.8V496.3H1672.4" stroke="#272b3f" stroke-width="1.5" fill="none"/>
<path d="M1621.6 440.0l5.6 9.8h-11.2zM1681.7 496.3L1671.4 490.9v10.8z" fill="#272b3f"/>
<text x="1611.8" y="455.7" font-size="11.6" fill="#1d2136">x</text>
<text x="1658.3" y="512.0" font-size="12" textLength="17.0" lengthAdjust="spacingAndGlyphs" fill="#1d2136">f(x)</text>
<path d="M1623.6 549.4L1624.1 550.5L1624.7 551.7L1625.6 552.8L1626.8 554.0L1628.3 555.1L1630.2 556.3L1632.4 557.4L1635.1 558.5L1638.0 559.7L1641.3 560.8L1644.7 562.0L1648.1 563.1L1651.5 564.3L1654.5 565.4L1657.0 566.5L1658.9 567.7L1660.1 568.8L1660.4 570.0L1660.0 571.1L1659.1 572.2L1657.7 573.4L1655.9 574.5L1653.6 575.7L1651.2 576.8L1648.5 578.0L1645.7 579.1L1642.9 580.2L1640.2 581.4L1637.6 582.5L1635.2 583.7L1633.1 584.8L1631.1 586.0L1629.5 587.1L1628.0 588.2L1626.9 589.4L1625.9 590.5L1625.1 591.7L1624.5 592.8L1624.0 594.0L1623.6 595.1" stroke="#ff9d94" stroke-width="1.2" fill="none"/>
<path d="M1622.4 569.8H1658.9" stroke="#ff3323" stroke-width="1.3" stroke-dasharray="4.6 3.2"/>
<path d="M1621.6 547.5V597.3H1672.4" stroke="#272b3f" stroke-width="1.5" fill="none"/>
<path d="M1621.6 538.8l5.6 9.7h-11.2zM1681.7 597.3L1671.4 591.9v10.8z" fill="#272b3f"/>
<text x="1611.8" y="556.1" font-size="11.6" fill="#1d2136">x</text>
<text x="1657.4" y="612.6" font-size="12" textLength="17.0" lengthAdjust="spacingAndGlyphs" fill="#1d2136">f(x)</text>
<text x="1415.4" y="353.2" font-size="18.3" textLength="298.2" lengthAdjust="spacingAndGlyphs" font-weight="bold" fill="#1d2136">Many sensor readings+ ext. data</text>
<text x="1426.2" y="422.5" font-size="11.8" textLength="63.6" lengthAdjust="spacingAndGlyphs" fill="#2b2f42" transform="rotate(-90 1426.2 422.5)">Parameter 1</text>
<text x="1425.2" y="499.6" font-size="11.8" textLength="63.6" lengthAdjust="spacingAndGlyphs" fill="#2b2f42" transform="rotate(-90 1425.2 499.6)">Parameter 2</text>
<text x="1424.9" y="596.5" font-size="11.8" textLength="64.2" lengthAdjust="spacingAndGlyphs" fill="#2b2f42" transform="rotate(-90 1424.9 596.5)">Parameter X</text>
<text x="1464.4" y="419.0" font-size="11.5" textLength="25.3" lengthAdjust="spacingAndGlyphs" fill="#2b2f42">Time</text>
<text x="1464.4" y="495.3" font-size="11.5" textLength="25.3" lengthAdjust="spacingAndGlyphs" fill="#2b2f42">Time</text>
<text x="1464.4" y="591.0" font-size="11.5" textLength="25.3" lengthAdjust="spacingAndGlyphs" fill="#2b2f42">Time</text>
<text x="1420.9" y="530.3" font-size="20" textLength="26.4" lengthAdjust="spacingAndGlyphs" fill="#1d2136">(…)</text>
<text x="1429.0" y="627.0" font-size="12.8" textLength="203.4" lengthAdjust="spacingAndGlyphs" font-style="italic" fill="#1d2136">+ operational/environmental data</text>
</g></svg>
<div class="lab" style="left:1283px;top:653.6px;width:133.1px"></div>
<h3 class="t" style="left:1287.83px;top:666.00px;font-size:23.2px;font-weight:bold;color:#fff;transform:scaleX(0.9678);">Benefits</h3>
<ul>
<svg class="ico" style="left:1347.8px;top:698.4px" width="20" height="20" viewBox="0 0 20 20" aria-hidden="true"><path d="M10 0V20M0 10H20" stroke="#12b14b" stroke-width="2.3"/></svg>
<li class="t" style="left:1397.28px;top:698.00px;font-size:23.9px;transform:scaleX(1.0217);">Failure prediction time-window</li>
<svg class="ico" style="left:1347.8px;top:729.7px" width="20" height="20" viewBox="0 0 20 20" aria-hidden="true"><path d="M10 0V20M0 10H20" stroke="#12b14b" stroke-width="2.3"/></svg>
<li class="t" style="left:1396.59px;top:729.00px;font-size:23.9px;transform:scaleX(1.0094);">Output robustness</li>
</ul>
<div class="lab" style="left:1283px;top:788.3px;width:131.7px"></div>
<h3 class="t" style="left:1287.03px;top:800.00px;font-size:23.2px;font-weight:bold;color:#fff;transform:scaleX(0.9739);">Limitations</h3>
<ul>
<svg class="ico" style="left:1346.8px;top:843.2px" width="20.1" height="4" viewBox="0 0 20.1 4" aria-hidden="true"><path d="M0 2H20.1" stroke="#ff4a3d" stroke-width="2"/></svg>
<li class="t" style="left:1396.33px;top:835.00px;font-size:23.9px;transform:scaleX(0.9729);">Resource demand</li>
<svg class="ico" style="left:1346.8px;top:874.3px" width="20.1" height="4" viewBox="0 0 20.1 4" aria-hidden="true"><path d="M0 2H20.1" stroke="#ff4a3d" stroke-width="2"/></svg>
<li class="t" style="left:1396.28px;top:866.00px;font-size:23.9px;transform:scaleX(1.0175);">Model transferability and scalability</li>
</ul></section>
</main>
<footer>
<p class="wr"><b class="t" style="left:73.00px;top:970.00px;font-size:17.1px;font-weight:bold;transform:scaleX(0.8809);">Source</b><span class="t" style="left:125.45px;top:970.00px;font-size:17.1px;transform:scaleX(0.9466);white-space:pre;">: IoT Analytics Research </span><span class="t" style="left:306.25px;top:970.00px;font-size:17.1px;white-space:pre;">2023-Predictive Maintenance </span><span class="t" style="left:531.49px;top:970.00px;font-size:17.1px;transform:scaleX(1.0071);white-space:pre;">Market Report 2023-2028. </span><span class="t" style="left:737.26px;top:970.00px;font-size:17.1px;transform:scaleX(0.9873);white-space:pre;">Please cite the source and link to the </span><span class="t" style="left:1018.75px;top:970.00px;font-size:17.1px;transform:scaleX(1.0040);white-space:pre;">original post and our website </span><span class="t" style="left:1241.00px;top:970.00px;font-size:17.1px;transform:scaleX(0.9974);">if you republish our images.</span></p>
</footer>
<div class="frame"></div>
</div></body></html>
